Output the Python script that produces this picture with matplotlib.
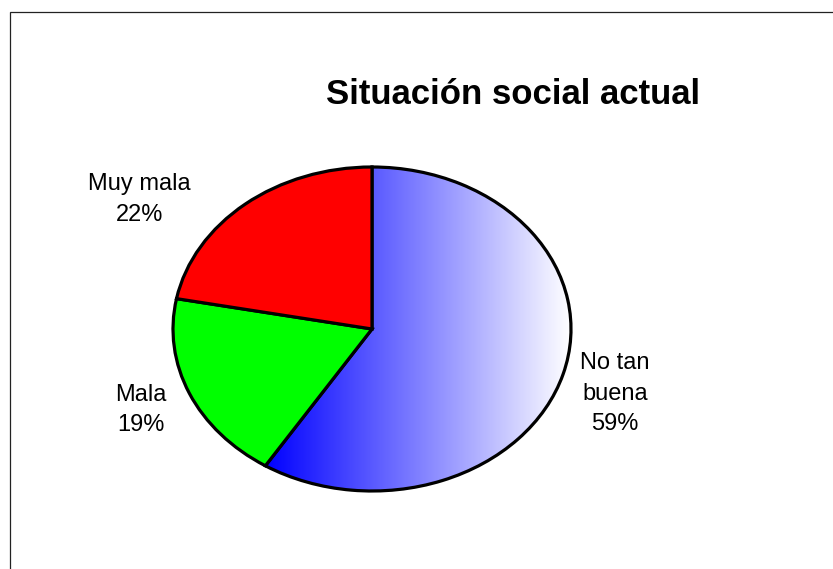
import numpy as np
import matplotlib
matplotlib.use("Agg")
import matplotlib.pyplot as plt
from matplotlib.patches import Rectangle
from matplotlib.colors import LinearSegmentedColormap

plt.rcParams['font.family'] = ['Liberation Sans', 'DejaVu Sans']

# data
title = "Situación social actual"
categories = ["No tan\nbuena", "Mala", "Muy mala"]
shares = [59, 19, 22]
slice_colors = [None, "#00ff00", "#ff0000"]   # first slice gets a gradient
label_pos = [(1.22, -0.40), (-1.16, -0.50), (-1.17, 0.80)]

W, H = 833, 569
fig = plt.figure(figsize=(W / 100, H / 100), dpi=100)

# outer chart frame (right / bottom run off the image)
fig.patches.append(Rectangle((10 / W, -0.1), 1.2, 1 - 12 / H + 0.1,
                             transform=fig.transFigure, fill=False,
                             edgecolor="#222222", linewidth=0.9))

# axes sized so the unit pie becomes the ellipse of the reference
cx, cy, rx, ry = 372, 329, 199, 162
ax = fig.add_axes([(cx - rx) / W, (H - cy - ry) / H, 2 * rx / W, 2 * ry / H])

wedges, _ = ax.pie(shares, startangle=90, counterclock=False, radius=1,
                   colors=[c or "#0000ff" for c in slice_colors],
                   wedgeprops=dict(edgecolor="black", linewidth=2.3))
ax.set_aspect("auto")

# horizontal blue -> white gradient on the big slice
w0 = wedges[0]
w0.set_facecolor("none")
x_left = np.cos(np.deg2rad(90 - 360 * shares[0] / sum(shares)))
grad_cmap = LinearSegmentedColormap.from_list("bluewhite", ["#0000ff", "#ffffff"])
grad = np.linspace(0, 1, 256).reshape(1, -1)
im = ax.imshow(grad, cmap=grad_cmap, extent=[x_left, 1, -1, 1],
               aspect="auto", zorder=w0.get_zorder() - 0.1)
im.set_clip_path(w0)
ax.set_xlim(-1, 1)
ax.set_ylim(-1, 1)

for name, val, (lx, ly) in zip(categories, shares, label_pos):
    ax.text(lx, ly, f"{name}\n{val}%", ha="center", va="center",
            multialignment="center", fontsize=17, linespacing=1.5,
            clip_on=False)

fig.text(513 / W, 1 - 95 / H, title, ha="center", va="center",
         fontsize=25, fontweight="bold")

fig.savefig("out.png", dpi=100, facecolor="white")
